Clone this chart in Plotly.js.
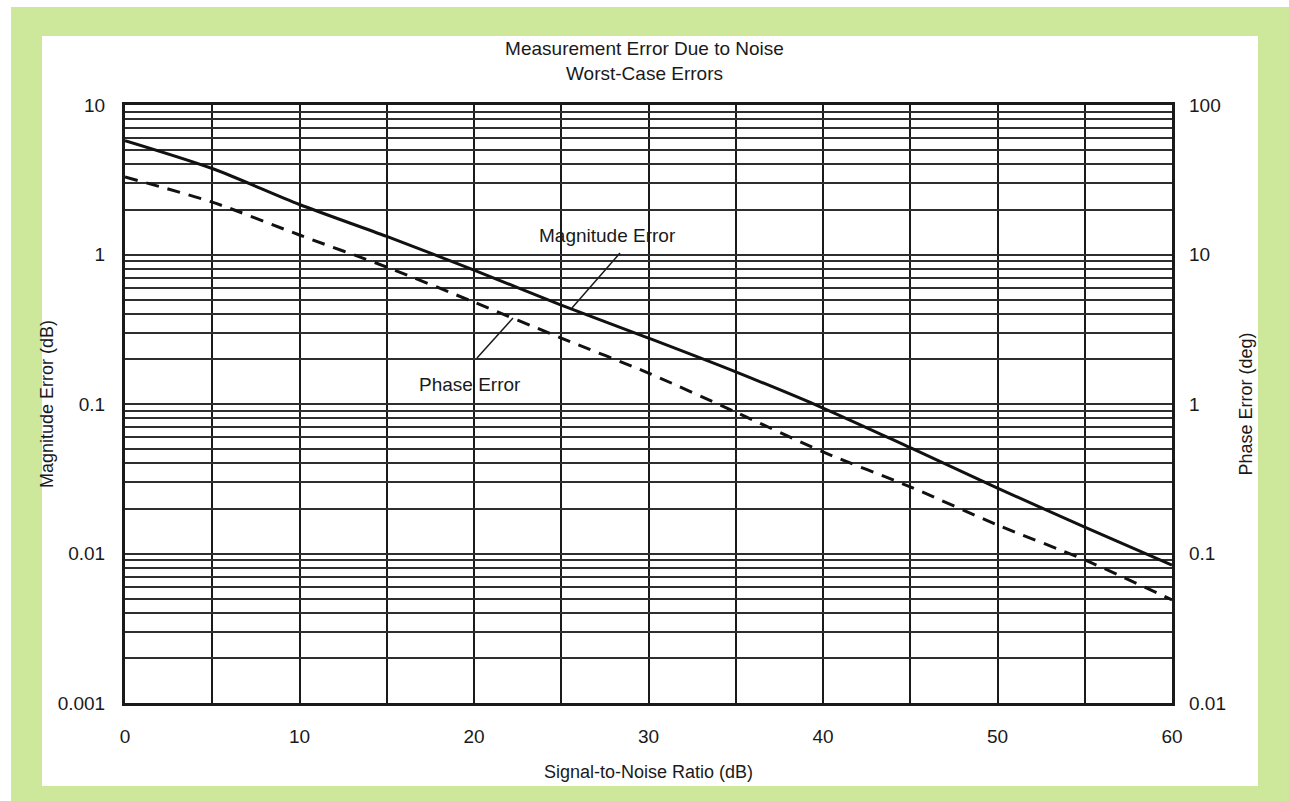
<!DOCTYPE html>
<html>
<head>
<meta charset="utf-8">
<script src="https://cdn.plot.ly/plotly-3.0.1.min.js"></script>
<style>
  html, body { margin: 0; padding: 0; background: #ffffff; width: 1289px; height: 801px; overflow: hidden; }
  #green { position: absolute; left: 11px; top: 7px; width: 1278px; height: 794px; background: #cde89b; }
  #white { position: absolute; left: 42px; top: 36px; width: 1216px; height: 750px; background: #ffffff; }
  #chart { position: absolute; left: 0; top: 0; width: 1289px; height: 801px; }
</style>
</head>
<body>
<div id="green"></div>
<div id="white"></div>
<div id="chart"></div>
<script>
// Signal-to-noise ratio (dB)
const snr = [0, 5, 10, 15, 20, 25, 30, 35, 40, 45, 50, 55, 60];
// Magnitude error (dB), left axis
const magErr = [5.78, 3.76, 2.16, 1.32, 0.787, 0.459, 0.276, 0.164, 0.094, 0.051, 0.0274, 0.0150, 0.00837];
// Phase error (deg), right axis
const phaseErr = [33.0, 22.4, 13.5, 8.24, 4.8, 2.76, 1.61, 0.883, 0.478, 0.279, 0.155, 0.0906, 0.0489];

// Tick labels
const xTickVals = [0, 5, 10, 15, 20, 25, 30, 35, 40, 45, 50, 55, 60];
const xTickText = ["0", "", "10", "", "20", "", "30", "", "40", "", "50", "", "60"];
const yDecades = [0.001, 0.01, 0.1, 1, 10];
const yDecadeText = ["0.001", "0.01", "0.1", "1", "10"];
const y2Decades = [0.01, 0.1, 1, 10, 100];
const y2DecadeText = ["0.01", "0.1", "1", "10", "100"];
const minorMultipliers = [1, 2, 3, 4, 5, 6, 7, 8, 9];

// Build the log grid ticks (every 1..9 x decade) from the arrays above
const yTickVals = [];
const yTickText = [];
for (let d = 0; d < yDecades.length - 1; d++) {
  for (const m of minorMultipliers) {
    yTickVals.push(+(yDecades[d] * m).toPrecision(3));
    yTickText.push(m === 1 ? yDecadeText[d] : "");
  }
}
yTickVals.push(yDecades[yDecades.length - 1]);
yTickText.push(yDecadeText[yDecadeText.length - 1]);

const FONT = '"Liberation Sans Narrow", "Liberation Sans", Arial, sans-serif';
const INK = '#1a1a1a';

const traces = [
  {
    x: snr, y: magErr, type: 'scatter', mode: 'lines', name: 'Magnitude Error',
    line: { color: '#111111', width: 3, shape: 'spline', smoothing: 0.8 }, yaxis: 'y'
  },
  {
    x: snr, y: phaseErr, type: 'scatter', mode: 'lines', name: 'Phase Error',
    line: { color: '#111111', width: 3, dash: '13px,9px', shape: 'spline', smoothing: 0.8 }, yaxis: 'y2'
  }
];

const layout = {
  width: 1289, height: 801,
  margin: { l: 125, r: 117, t: 105, b: 98 },
  paper_bgcolor: 'rgba(0,0,0,0)',
  plot_bgcolor: '#ffffff',
  showlegend: false,
  font: { family: FONT, color: INK, size: 19 },
  title: {
    text: 'Measurement Error Due to Noise<br>Worst-Case Errors',
    font: { family: FONT, size: 19, color: INK },
    x: 0.5, xanchor: 'center', y: 0.931, yanchor: 'top'
  },
  xaxis: {
    range: [0, 60],
    tickmode: 'array', tickvals: xTickVals, ticktext: xTickText,
    ticks: '', ticklabelstandoff: 14,
    showgrid: true, gridcolor: INK, gridwidth: 2,
    zeroline: false,
    showline: true, linecolor: INK, linewidth: 3, mirror: true,
    tickfont: { family: FONT, size: 19, color: INK },
    title: { text: 'Signal-to-Noise Ratio (dB)', font: { family: FONT, size: 18, color: INK }, standoff: 20 }
  },
  yaxis: {
    type: 'log', range: [-3, 1],
    tickmode: 'array', tickvals: yTickVals, ticktext: yTickText,
    ticks: '', ticklabelstandoff: 13,
    showgrid: true, gridcolor: '#2e2e2e', gridwidth: 2,
    zeroline: false,
    showline: true, linecolor: INK, linewidth: 3, mirror: true,
    tickfont: { family: FONT, size: 19, color: INK },
    title: { text: 'Magnitude Error (dB)', font: { family: FONT, size: 18, color: INK }, standoff: 0 }
  },
  yaxis2: {
    type: 'log', range: [-2, 2], overlaying: 'y', side: 'right',
    tickmode: 'array', tickvals: y2Decades, ticktext: y2DecadeText,
    ticks: '', ticklabelstandoff: 16,
    showgrid: false, zeroline: false, showline: false,
    tickfont: { family: FONT, size: 19, color: INK },
    title: { text: 'Phase Error (deg)', font: { family: FONT, size: 18, color: INK }, standoff: 14 }
  },
  annotations: [
    { xref: 'paper', yref: 'paper', x: 0.4604, y: 0.7826, xanchor: 'center', yanchor: 'middle',
      text: 'Magnitude Error', showarrow: false, font: { family: FONT, size: 19, color: INK } },
    { xref: 'paper', yref: 'paper', x: 0.3295, y: 0.5318, xanchor: 'center', yanchor: 'middle',
      text: 'Phase Error', showarrow: false, font: { family: FONT, size: 19, color: INK } }
  ],
  shapes: [
    { type: 'line', xref: 'paper', yref: 'paper', x0: 0.4728, y0: 0.7525, x1: 0.4269, y1: 0.6605,
      line: { color: INK, width: 1.5 } },
    { type: 'line', xref: 'paper', yref: 'paper', x0: 0.3362, y0: 0.5769, x1: 0.3706, y1: 0.6438,
      line: { color: INK, width: 1.5 } }
  ]
};

Plotly.newPlot('chart', traces, layout, { displayModeBar: false, staticPlot: true });
</script>
</body>
</html>
